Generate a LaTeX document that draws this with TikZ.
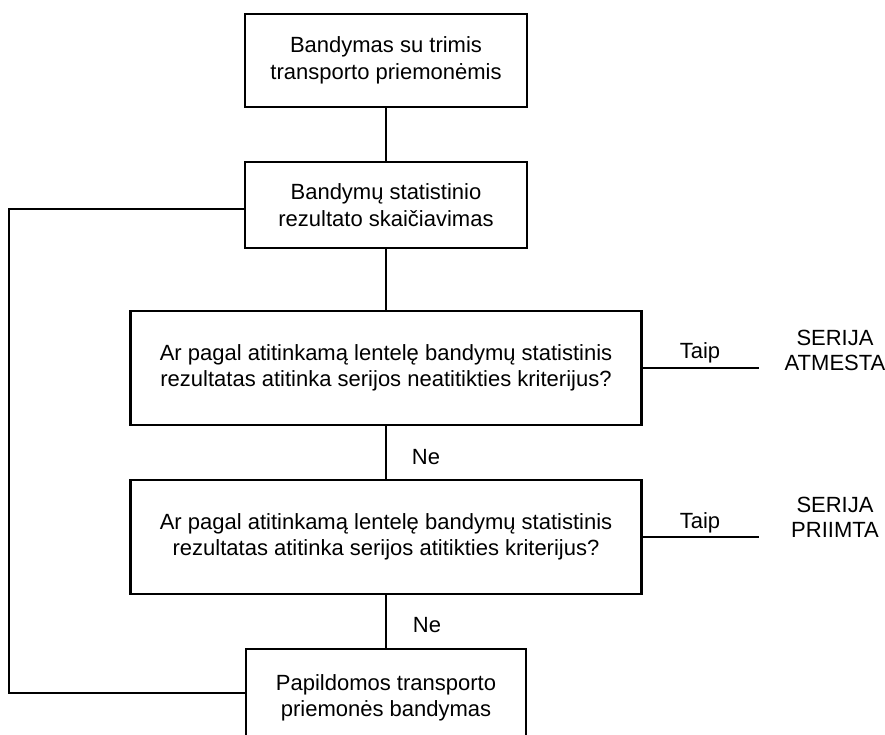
\documentclass[tikz,border=0pt]{standalone}
\usepackage{fontspec}
\setmainfont{Liberation Sans}
\begin{document}
\begin{tikzpicture}[x=1pt,y=-1pt,
  box/.style={draw, line width=2.6pt, align=center, inner sep=0pt, font=\fontsize{22}{26.4}\selectfont},
  lbl/.style={align=center, inner sep=0pt, font=\fontsize{22}{25}\selectfont},
  conn/.style={line width=2.6pt}]
\useasboundingbox (0,0) rectangle (885,735);
\node[box, minimum width=282pt, minimum height=93pt] (b1) at (386,60.5) {Bandymas su trimis\\transporto priemonėmis};
\node[box, minimum width=282pt, minimum height=86pt] (b2) at (386,205) {Bandymų statistinio\\rezultato skaičiavimas};
\node[box, minimum width=511pt, minimum height=114pt] (b3) at (386,368) {Ar pagal atitinkamą lentelę bandymų statistinis\\rezultatas atitinka serijos neatitikties kriterijus?};
\node[box, minimum width=511pt, minimum height=114pt] (b4) at (386,537) {Ar pagal atitinkamą lentelę bandymų statistinis\\rezultatas atitinka serijos atitikties kriterijus?};
\node[box, minimum width=280pt, minimum height=98pt] (b5) at (386,698) {Papildomos transporto\\priemonės bandymas};

\node[lbl] (t1) at (700,353) {Taip};
\node[lbl] (t2) at (700,523) {Taip};
\node[lbl] (r1) at (835,350) {SERIJA\\ATMESTA};
\node[lbl] (r2) at (835,517) {SERIJA\\PRIIMTA};
\node[lbl] (n1) at (426,457) {Ne};
\node[lbl] (n2) at (427,625) {Ne};

\coordinate (e1) at (759,368);
\coordinate (e2) at (759,537);
\coordinate (c1) at (9,209);
\coordinate (c2) at (9,693);
\coordinate (s2) at (b2.west |- c1);
\coordinate (s5) at (b5.west |- c2);

\draw[conn] (b1) -- (b2);
\draw[conn] (b2) -- (b3);
\draw[conn] (b3) -- (b4);
\draw[conn] (b4) -- (b5);
\draw[conn] (b3.east) -- (e1);
\draw[conn] (b4.east) -- (e2);
\draw[conn] (s2) -- (c1) -- (c2) -- (s5);
\end{tikzpicture}
\end{document}
